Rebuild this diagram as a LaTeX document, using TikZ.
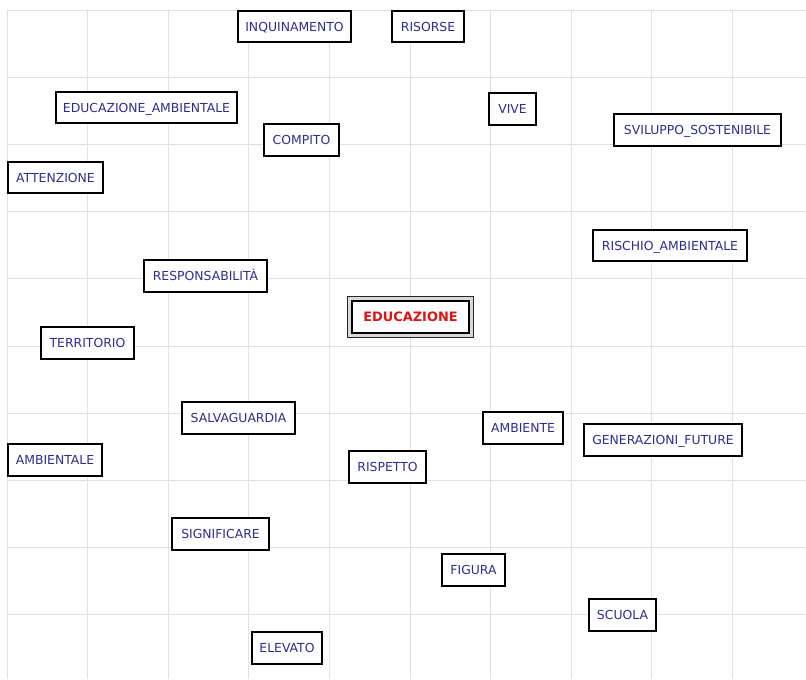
\documentclass[tikz,border=0pt]{standalone}
\usepackage{fontspec}
\setmainfont{DejaVu Sans}
\definecolor{txtblue}{RGB}{45,45,145}
\definecolor{txtred}{RGB}{220,20,20}
\definecolor{gridgray}{RGB}{224,224,224}
\begin{document}
\begin{tikzpicture}[x=0.75pt,y=-0.75pt,
  wbox/.style 2 args={draw=black, fill=white, line width=1.5pt, inner sep=0pt,
    minimum width=#1*0.75pt-1.5pt, minimum height=#2*0.75pt-1.5pt,
    text=txtblue, font=\fontsize{9.3pt}{11pt}\selectfont, text height=0.73em, text depth=0pt},
  gline/.style={draw=gridgray, line width=0.75pt}]
\useasboundingbox (0,0) rectangle (806,679);
\fill[white] (0,0) rectangle (806,679);
% grid
\foreach \k in {0,...,9} {
  \draw[gline] ({7+80.6*\k},10) -- ({7+80.6*\k},679);
  \draw[gline] (7,{10+67.2*\k}) -- (806,{10+67.2*\k});
}
% nodes
\node[wbox={115}{33}] (inq) at (294.5,26.5) {INQUINAMENTO};
\node[wbox={74}{33}] (ris) at (428,26.5) {RISORSE};
\node[wbox={183}{33}] (edam) at (146.5,107.5) {EDUCAZIONE\_AMBIENTALE};
\node[wbox={77}{34}] (comp) at (301.5,140) {COMPITO};
\node[wbox={97}{33}] (att) at (55.5,177.5) {ATTENZIONE};
\node[wbox={49}{34}] (vive) at (512.5,109) {VIVE};
\node[wbox={169}{34}] (svil) at (697.5,130) {SVILUPPO\_SOSTENIBILE};
\node[wbox={125}{34}] (resp) at (205.5,276) {RESPONSABILITÀ};
\node[wbox={95}{34}] (terr) at (87.5,343) {TERRITORIO};
\node[wbox={115}{34}] (salv) at (238.5,418) {SALVAGUARDIA};
\node[wbox={96}{34}] (ambl) at (55,460) {AMBIENTALE};
\node[wbox={156}{33}] (risch) at (670,245.5) {RISCHIO\_AMBIENTALE};
\node[wbox={82}{34}] (amb) at (523,428) {AMBIENTE};
\node[wbox={160}{34}] (gen) at (663,440) {GENERAZIONI\_FUTURE};
\node[wbox={79}{34}] (risp) at (387.5,467) {RISPETTO};
\node[wbox={99}{34}] (sign) at (220.5,534) {SIGNIFICARE};
\node[wbox={72}{34}] (elev) at (287,648) {ELEVATO};
\node[wbox={65}{34}] (fig) at (473.5,570) {FIGURA};
\node[wbox={69}{34}] (scu) at (622.5,615) {SCUOLA};
% central node with double border
\node[draw=black!85, fill=black!15, line width=0.9pt, inner sep=0pt,
  minimum width=126*0.75pt, minimum height=41*0.75pt] (eduout) at (410.5,317) {};
\node[wbox={119}{34}, text=txtred, font=\bfseries\fontsize{9.7pt}{11pt}\selectfont] (edu) at (410.5,317) {EDUCAZIONE};
\end{tikzpicture}
\end{document}
